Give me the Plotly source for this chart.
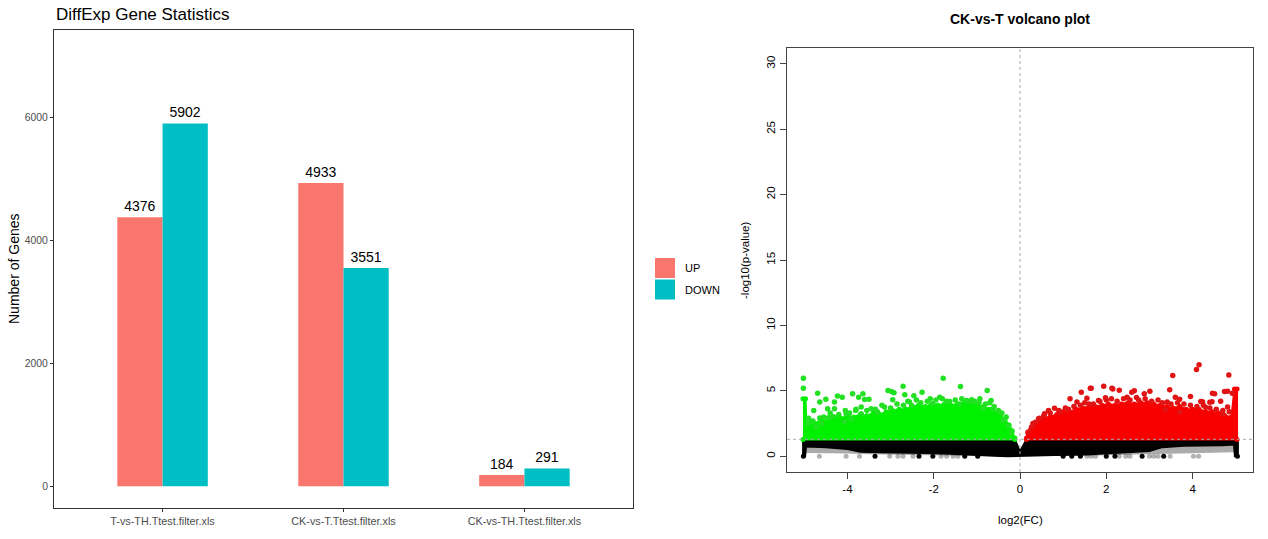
import plotly.graph_objects as go

# ---------------- Bar chart data ----------------
categories = ["T-vs-TH.Ttest.filter.xls", "CK-vs-T.Ttest.filter.xls", "CK-vs-TH.Ttest.filter.xls"]
up_counts = [4376, 4933, 184]
down_counts = [5902, 3551, 291]
bar_yticks = [0, 2000, 4000, 6000]
series_names = ["UP", "DOWN"]
up_color = "#F8766D"
down_color = "#00BFC4"

# ---------------- Volcano data ----------------
p_threshold = 1.3          # -log10(0.05)
fc_center = 0
vol_xticks = [-4, -2, 0, 2, 4]
vol_xticktext = ["-4", "-2", "0", "2", "4"]
vol_yticks = [0, 5, 10, 15, 20, 25, 30]
sig_floor = 1.28

# dense green cloud, upper envelope (x, -log10 p)
green_env_x = [-5.03, -4.97, -4.95, -4.85, -4.75, -4.6, -4.45, -4.3, -4.15, -4.0, -3.85, -3.7, -3.55,
               -3.4, -3.25, -3.1, -2.95, -2.8, -2.65, -2.5, -2.35, -2.2, -2.05, -1.9, -1.75, -1.6,
               -1.45, -1.3, -1.15, -1.0, -0.85, -0.7, -0.55, -0.45, -0.35, -0.25, -0.18, -0.12]
green_env_y = [4.4, 4.4, 2.4, 2.6, 2.5, 2.8, 2.7, 3.0, 2.9, 3.1, 3.0, 3.2, 3.1,
               3.3, 3.2, 3.4, 3.5, 3.6, 3.6, 3.8, 3.9, 3.8, 4.0, 3.9, 4.0, 3.9,
               4.0, 4.1, 4.0, 3.9, 3.8, 3.6, 3.3, 3.1, 2.8, 2.4, 1.95, 1.4]

# dense red cloud, upper envelope
red_env_x = [0.15, 0.18, 0.25, 0.33, 0.42, 0.5, 0.6, 0.7, 0.85, 1.0, 1.15, 1.3, 1.45, 1.6, 1.75,
             1.9, 2.05, 2.2, 2.35, 2.5, 2.65, 2.8, 2.95, 3.1, 3.25, 3.4, 3.55, 3.7, 3.85, 4.0,
             4.15, 4.3, 4.45, 4.6, 4.75, 4.9, 4.97, 5.03]
red_env_y = [1.4, 1.8, 2.1, 2.4, 2.6, 2.8, 2.9, 3.0, 3.2, 3.4, 3.4, 3.6, 3.7, 3.8, 3.8,
             3.9, 4.0, 3.9, 4.0, 4.1, 4.0, 4.1, 4.1, 4.0, 3.9, 3.8, 3.7, 3.8, 3.6, 3.6,
             3.6, 3.4, 3.4, 3.3, 3.1, 3.0, 5.15, 5.15]

# dense black (non-significant) band: top and bottom envelopes
black_top_x = [-5.05, -0.12, 0.0, 0.15, 5.05]
black_top_y = [1.28, 1.28, 0.35, 1.28, 1.28]
black_bot_x = [-5.05, -4.98, -4.96, -4.5, -4.0, -3.7, -3.3, -2.8, -2.2, -1.6, -1.0, -0.6, -0.3,
               0.0, 0.3, 0.8, 1.4, 2.0, 2.5, 3.0, 3.3, 3.8, 4.3, 4.7, 4.96, 4.98, 5.05]
black_bot_y = [0.0, 0.0, 0.75, 0.7, 0.55, 0.35, 0.3, 0.25, 0.25, 0.2, 0.12, 0.05, 0.0,
               0.0, 0.05, 0.1, 0.12, 0.2, 0.3, 0.4, 0.7, 0.8, 0.85, 0.85, 0.9, 0.0, 0.0]

# faint grey (transparent) points below the black band
grey_left_x = [-4.96, -4.5, -4.0, -3.5, -3.0, -2.5, -2.0, -1.5, -1.0]
grey_left_bot = [0.25, 0.25, 0.22, 0.15, 0.12, 0.1, 0.08, 0.05, 0.03]
grey_right_x = [1.5, 2.0, 2.5, 3.0, 3.5, 4.0, 4.5, 4.96]
grey_right_bot = [0.05, 0.08, 0.12, 0.18, 0.22, 0.25, 0.28, 0.3]
grey_top = 1.0

# individual green outliers
green_x = [-5.02, -5.02, -4.69, -4.64, -4.50, -4.78, -4.64, -4.46, -4.30, -4.23, -4.12, -4.44, -4.34,
           -4.30, -3.88, -3.74, -3.64, -3.60, -3.50, -3.81, -3.68, -3.68, -3.45, -3.30, -3.06, -2.98,
           -2.92, -2.95, -3.14, -4.03, -3.91, -4.07, -4.92, -4.73, -4.60, -2.71, -2.67, -2.46, -2.27,
           -1.78, -1.38, -0.76, -0.67, -0.70, -2.08, -1.86, -1.63, -1.24, -1.12, -0.93, -2.56, -2.51,
           -2.02, -1.40, -0.85, -0.62, -0.39, -0.27, -0.19,
           -4.9, -4.8, -4.55, -4.4, -4.2, -4.05, -3.95, -3.8, -3.55, -3.35, -3.2, -3.0, -2.85, -2.7,
           -2.6, -2.4, -2.3, -2.15, -1.95, -1.8, -1.7, -1.5, -1.35, -1.2, -1.05, -0.95, -0.8, -0.6,
           -0.5, -0.42, -0.32]
green_y = [5.96, 5.2, 4.82, 4.14, 4.36, 3.5, 2.92, 3.63, 4.14, 4.6, 4.52, 2.94, 3.05,
           3.63, 4.77, 4.52, 4.77, 4.34, 4.36, 3.5, 3.76, 3.25, 3.63, 3.38, 5.03, 4.95,
           4.85, 4.32, 3.76, 3.25, 2.87, 2.62, 2.49, 2.23, 2.5, 5.36, 4.7, 4.62, 4.9,
           5.96, 5.33, 5.03, 4.27, 4.1, 4.39, 4.52, 4.19, 4.27, 4.32, 4.39, 4.14, 3.88,
           4.01, 4.0, 3.65, 3.63, 2.74, 2.36, 1.85,
           2.9, 2.7, 3.0, 3.3, 3.2, 3.5, 3.3, 3.6, 3.5, 3.6, 3.9, 3.7, 4.0, 3.9,
           4.2, 4.3, 4.1, 4.2, 4.3, 4.4, 4.2, 4.3, 4.4, 4.2, 4.2, 4.1, 4.0, 3.8,
           3.5, 3.3, 3.0]

# individual red outliers
red_x = [1.94, 1.65, 1.42, 2.15, 2.30, 1.55, 1.16, 1.32, 1.60, 1.82, 1.98, 2.12, 2.48, 0.80, 0.66,
         0.57, 0.43, 0.36, 0.27, 0.19, 0.93, 1.12, 4.15, 4.09, 3.54, 4.84, 3.47, 2.65, 2.88, 3.01,
         4.81, 4.92, 4.51, 3.95, 3.60, 3.70, 4.65, 4.19, 4.40, 3.41, 2.70, 3.37, 3.70, 4.30, 4.81,
         4.70, 2.59, 4.46, 4.74, 4.23, 4.45, 1.63, 2.13,
         0.3, 0.45, 0.55, 0.7, 0.9, 1.05, 1.25, 1.4, 1.5, 1.7, 1.85, 2.0, 2.25, 2.4, 2.55, 2.75,
         2.9, 3.05, 3.2, 3.3, 3.5, 3.65, 3.8, 3.95, 4.1, 4.25, 4.4, 4.55, 4.7, 4.85]
red_y = [5.36, 5.2, 4.9, 5.15, 5.05, 4.44, 4.39, 4.14, 4.0, 4.27, 4.47, 4.4, 4.52, 3.68, 3.5,
         3.25, 2.87, 2.6, 2.23, 1.85, 3.38, 3.6, 7.0, 6.63, 6.17, 6.22, 5.08, 5.0, 4.77, 4.98,
         4.98, 4.82, 4.77, 4.57, 4.52, 4.35, 4.21, 4.19, 4.13, 4.14, 4.5, 3.6, 3.38, 3.75, 3.76,
         3.25, 4.9, 4.82, 4.95, 4.17, 4.17, 5.2, 5.2,
         2.5, 2.9, 3.1, 3.3, 3.5, 3.7, 3.8, 3.9, 4.1, 4.0, 4.2, 4.3, 4.2, 4.4, 4.3, 4.3,
         4.4, 4.2, 4.3, 4.1, 4.0, 4.1, 4.0, 3.9, 3.8, 3.9, 3.7, 3.6, 3.5, 3.4]

# points lying on -log10(p) = 0
zero_dark_x = [-5.02, -3.36, -2.34, -2.02, -1.28, -0.98, 1.0, 1.2, 1.4, 2.0, 2.2, 2.83, 3.33, 5.04]
zero_grey_x = [-4.65, -4.03, -3.72, -3.02, -2.83, -2.71, -2.48, -1.83, -1.7, -1.55, -1.44,
               1.55, 1.65, 1.75, 2.3, 2.45, 2.55, 3.0, 3.1, 3.2, 3.48, 4.02, 4.14]

FONT = "Liberation Sans, Arial, Helvetica, sans-serif"
W, H = 1268, 539


def PX(x):
    return x / W


def PY(y):
    return 1 - y / H


fig = go.Figure()

# ---------- bars ----------
for vals, nm, col, off in [(up_counts, series_names[0], up_color, -0.25),
                           (down_counts, series_names[1], down_color, 0.0)]:
    fig.add_trace(go.Bar(
        x=categories, y=vals, name=nm, marker_color=col, marker_line_width=0,
        width=0.25, offset=off, text=[str(v) for v in vals], textposition="outside",
        textfont=dict(size=14, color="black", family=FONT), cliponaxis=False,
        constraintext="none", xaxis="x", yaxis="y", showlegend=False))

# ---------- volcano ----------
def band(xs, bots, top):
    return xs + xs[::-1], bots + [top] * len(xs)


for gxs, gbots in [(grey_left_x, grey_left_bot), (grey_right_x, grey_right_bot)]:
    gx, gy = band(gxs, gbots, grey_top)
    fig.add_trace(go.Scatter(x=gx, y=gy, fill="toself", mode="lines", line=dict(width=0),
                             fillcolor="rgba(0,0,0,0.33)", xaxis="x2", yaxis="y2",
                             showlegend=False, hoverinfo="skip"))

fig.add_trace(go.Scatter(
    x=black_top_x + black_bot_x[::-1], y=black_top_y + black_bot_y[::-1],
    fill="toself", mode="lines", line=dict(width=2, color="black"), fillcolor="black",
    xaxis="x2", yaxis="y2", showlegend=False, hoverinfo="skip"))

fig.add_trace(go.Scatter(
    x=green_env_x + [green_env_x[-1], green_env_x[0]],
    y=green_env_y + [sig_floor, sig_floor],
    fill="toself", mode="lines+markers", line=dict(width=2, color="#00f000"),
    marker=dict(size=5, color="#00f000"), fillcolor="#00f000",
    xaxis="x2", yaxis="y2", showlegend=False, hoverinfo="skip"))

fig.add_trace(go.Scatter(
    x=red_env_x + [red_env_x[-1], red_env_x[0]],
    y=red_env_y + [sig_floor, sig_floor],
    fill="toself", mode="lines+markers", line=dict(width=2, color="#f80000"),
    marker=dict(size=5, color="#f80000"), fillcolor="#f80000",
    xaxis="x2", yaxis="y2", showlegend=False, hoverinfo="skip"))

fig.add_trace(go.Scatter(x=green_x, y=green_y, mode="markers",
                         marker=dict(size=5.5, color="#22e022"),
                         xaxis="x2", yaxis="y2", showlegend=False))
fig.add_trace(go.Scatter(x=red_x, y=red_y, mode="markers",
                         marker=dict(size=5.5, color="#e01414"),
                         xaxis="x2", yaxis="y2", showlegend=False))
fig.add_trace(go.Scatter(x=zero_grey_x, y=[0] * len(zero_grey_x), mode="markers",
                         marker=dict(size=5, color="rgba(0,0,0,0.3)"),
                         xaxis="x2", yaxis="y2", showlegend=False))
fig.add_trace(go.Scatter(x=zero_dark_x, y=[0] * len(zero_dark_x), mode="markers",
                         marker=dict(size=5, color="black"),
                         xaxis="x2", yaxis="y2", showlegend=False))

# dashed reference lines
fig.add_shape(type="line", xref="x2", yref="y2 domain", x0=fc_center, x1=fc_center, y0=0, y1=1,
              line=dict(color="#a8a8a8", width=1, dash="3px,3px"), layer="above")
fig.add_shape(type="line", xref="x2 domain", yref="y2", x0=0, x1=1, y0=p_threshold, y1=p_threshold,
              line=dict(color="#a8a8a8", width=1, dash="3px,3px"), layer="above")

# ggplot-style legend keys
legend_colors = [up_color, down_color]
for i, (nm, col) in enumerate(zip(series_names, legend_colors)):
    y_top = 258 + i * 21.5
    fig.add_shape(type="rect", xref="paper", yref="paper",
                  x0=PX(655), x1=PX(675), y0=PY(y_top + 20), y1=PY(y_top),
                  fillcolor=col, line=dict(width=0))
    fig.add_annotation(text=nm, xref="paper", yref="paper", x=PX(683), y=PY(y_top + 10),
                       xanchor="left", yanchor="middle", showarrow=False,
                       font=dict(size=11, color="black", family=FONT))

# titles
fig.add_annotation(text="DiffExp Gene Statistics", xref="paper", yref="paper",
                   x=PX(54), y=PY(14), xanchor="left", yanchor="middle", showarrow=False,
                   font=dict(size=17, color="black", family=FONT))
fig.add_annotation(text="Number of Genes", xref="paper", yref="paper",
                   x=PX(14), y=PY(269), textangle=-90, xanchor="center", yanchor="middle",
                   showarrow=False, font=dict(size=14, color="black", family=FONT))
fig.add_annotation(text="<b>CK-vs-T volcano plot</b>", xref="paper", yref="paper",
                   x=PX(1020), y=PY(19), xanchor="center", yanchor="middle", showarrow=False,
                   font=dict(size=14, color="black", family=FONT))
fig.add_annotation(text="log2(FC)", xref="paper", yref="paper",
                   x=PX(1020), y=PY(520), xanchor="center", yanchor="middle", showarrow=False,
                   font=dict(size=11.5, color="black", family=FONT))
fig.add_annotation(text="-log10(p-value)", xref="paper", yref="paper",
                   x=PX(745), y=PY(260), textangle=-90, xanchor="center", yanchor="middle",
                   showarrow=False, font=dict(size=11.5, color="black", family=FONT))

fig.update_layout(
    width=W, height=H, margin=dict(l=0, r=0, t=0, b=0),
    paper_bgcolor="white", plot_bgcolor="white", showlegend=False,
    barmode="overlay",
    font=dict(family=FONT),
    xaxis=dict(domain=[PX(54), PX(633)], anchor="y", range=[-0.6, 2.6], type="category",
               showline=True, mirror=True, linecolor="#333333", linewidth=1,
               ticks="outside", ticklen=3, tickcolor="#333333",
               tickfont=dict(size=10.8, color="#4d4d4d"), showgrid=False, zeroline=False),
    yaxis=dict(domain=[PY(508), PY(30)], anchor="x", range=[-353, 7421],
               tickvals=bar_yticks, showline=True, mirror=True, linecolor="#333333", linewidth=1,
               ticks="outside", ticklen=3, tickcolor="#333333",
               tickfont=dict(size=10.4, color="#4d4d4d"), showgrid=False, zeroline=False),
    xaxis2=dict(domain=[PX(787), PX(1253)], anchor="y2", range=[-5.4, 5.4],
                tickvals=vol_xticks, ticktext=vol_xticktext, showline=True, mirror=True,
                linecolor="#444444", linewidth=1,
                ticks="outside", ticklen=6, tickcolor="#444444",
                tickfont=dict(size=11.5, color="black"), showgrid=False, zeroline=False),
    yaxis2=dict(domain=[PY(472), PY(48)], anchor="x2", range=[-1.2, 31.2],
                tickvals=vol_yticks, tickangle=-90, showline=True, mirror=True,
                linecolor="#444444", linewidth=1, ticks="outside", ticklen=6, tickcolor="#444444",
                tickfont=dict(size=11.5, color="black"), showgrid=False, zeroline=False),
)

# remove the default 8px page margin so the 1268x539 figure fills the window exactly
fig.write_html("out.html",
               config={"displayModeBar": False},
               post_script="document.body.style.margin='0px';document.body.style.overflow='hidden';")
